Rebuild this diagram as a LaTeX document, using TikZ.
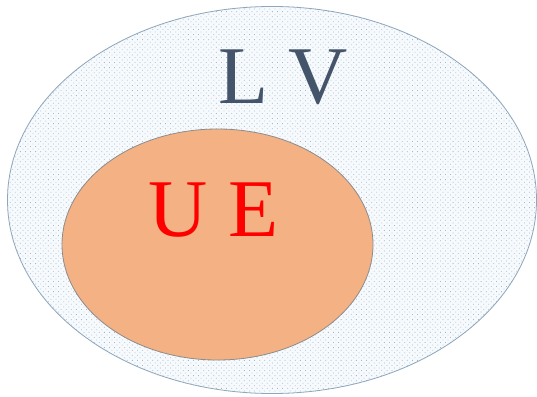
\documentclass[tikz,border=0pt]{standalone}
\usepackage{fontspec}
\setmainfont{Liberation Serif}
\usetikzlibrary{patterns.meta}
\definecolor{lvbg}{HTML}{F6FAFD}
\definecolor{lvdot}{HTML}{A3B8CD}
\definecolor{lvedge}{HTML}{8FA6BC}
\definecolor{ueorange}{HTML}{F4B183}
\definecolor{ueedge}{HTML}{8C8C8C}
\definecolor{lvtext}{HTML}{44546A}
\tikzset{
  bigtext/.style={inner sep=0pt, anchor=base, font=\fontsize{82}{90}\selectfont},
}
\begin{document}
\begin{tikzpicture}[x=1pt,y=-1pt]
\useasboundingbox (0,0) rectangle (537,396);
% outer set LV
\fill[lvbg] (272,200) ellipse [x radius=265, y radius=194];
\fill[pattern={Dots[distance=3.6pt, radius=0.55pt, angle=45]}, pattern color=lvdot] (272,200) ellipse [x radius=265, y radius=194];
\draw[lvedge, line width=0.8pt] (272,200) ellipse [x radius=264.5, y radius=193.5];
% inner set UE
\draw[ueedge, fill=ueorange, line width=0.8pt] (217.5,244.5) ellipse [x radius=155.5, y radius=115.5];
% labels
\node[bigtext, text=lvtext] (lv) at (283,103) {L V};
\node[bigtext, text=red] (ue) at (213.5,236) {U E};
\end{tikzpicture}
\end{document}
